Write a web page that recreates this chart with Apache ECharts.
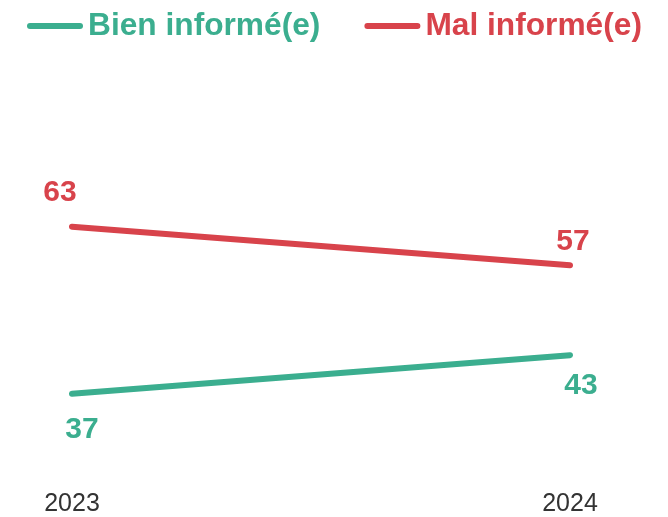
<!DOCTYPE html>
<html>
<head>
<meta charset="utf-8">
<script src="https://cdn.jsdelivr.net/npm/echarts@6/dist/echarts.min.js"></script>
<style>html,body{margin:0;padding:0;background:#fff;}#c{width:668px;height:517px;}</style>
</head>
<body>
<div id="c"></div>
<script>
const categories = ['2023', '2024'];
const seriesNames = ['Bien informé(e)', 'Mal informé(e)'];
const bienValues = [37, 43];
const malValues = [63, 57];

const colors = ['#3BAE8F', '#D8434B'];
const labelOffsets = [
  [[10, 36], [11, 31]],
  [[-12, -34], [3, -24]]
];
const FONT = '"Liberation Sans", Arial, sans-serif';

function mkData(vals, si) {
  return vals.map((v, i) => ({
    value: v,
    label: { offset: labelOffsets[si][i] }
  }));
}

const chart = echarts.init(document.getElementById('c'), null, { renderer: 'canvas' });
const capsule = 'path://M3,0 L53,0 A3,3 0 0 1 53,6 L3,6 A3,3 0 0 1 3,0 Z';

chart.setOption({
  animation: false,
  color: colors,
  legend: {
    left: 27,
    top: 10,
    padding: 0,
    itemWidth: 56,
    itemHeight: 6,
    itemGap: 44,
    textStyle: { fontFamily: FONT, fontSize: 31.7, fontWeight: 'bold' },
    data: seriesNames.map((n, i) => ({ name: n, icon: capsule, textStyle: { color: colors[i] } }))
  },
  grid: { left: 72, right: 98, top: 149.7, bottom: 46.3, containLabel: false },
  xAxis: {
    type: 'category',
    data: categories,
    boundaryGap: false,
    axisLine: { show: false },
    axisTick: { show: false },
    splitLine: { show: false },
    axisLabel: { color: '#333', fontFamily: FONT, fontSize: 25, margin: 21 }
  },
  yAxis: {
    type: 'value',
    min: 25,
    max: 75,
    show: false,
    splitLine: { show: false }
  },
  series: [
    {
      name: seriesNames[0],
      type: 'line',
      data: mkData(bienValues, 0),
      symbol: 'circle',
      symbolSize: 2,
      showSymbol: true,
      lineStyle: { width: 6, cap: 'round', color: colors[0] },
      itemStyle: { color: colors[0] },
      label: { show: true, position: 'inside', color: colors[0], fontFamily: FONT, fontSize: 30, fontWeight: 'bold' }
    },
    {
      name: seriesNames[1],
      type: 'line',
      data: mkData(malValues, 1),
      symbol: 'circle',
      symbolSize: 2,
      showSymbol: true,
      lineStyle: { width: 6, cap: 'round', color: colors[1] },
      itemStyle: { color: colors[1] },
      label: { show: true, position: 'inside', color: colors[1], fontFamily: FONT, fontSize: 30, fontWeight: 'bold' }
    }
  ]
});
</script>
</body>
</html>
